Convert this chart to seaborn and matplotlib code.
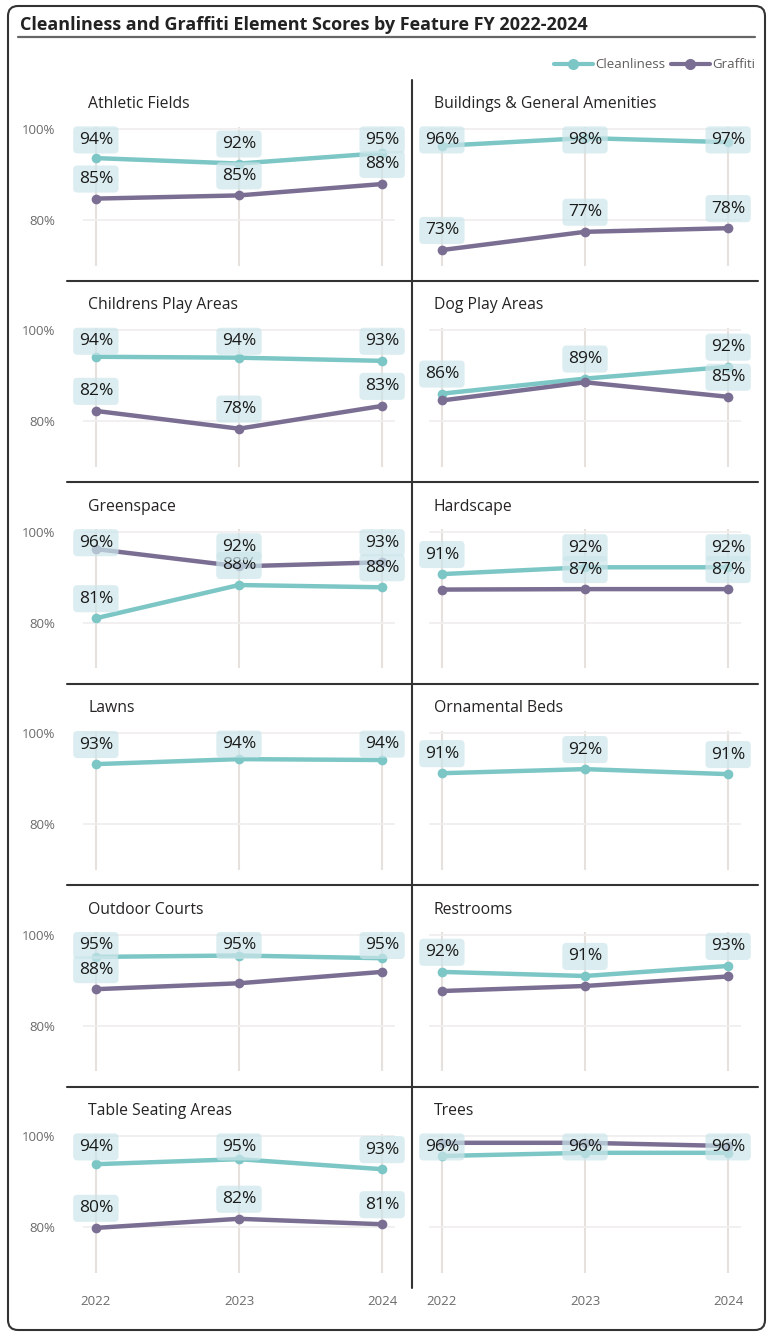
import numpy as np
import pandas as pd
import matplotlib
matplotlib.use("Agg")
import matplotlib.pyplot as plt
import seaborn as sns
from matplotlib.lines import Line2D
from matplotlib.patches import FancyBboxPatch
from matplotlib.transforms import IdentityTransform

# ---------------- data ----------------
years = [2022, 2023, 2024]
features = ["Athletic Fields", "Buildings & General Amenities",
            "Childrens Play Areas", "Dog Play Areas",
            "Greenspace", "Hardscape",
            "Lawns", "Ornamental Beds",
            "Outdoor Courts", "Restrooms",
            "Table Seating Areas", "Trees"]
cleanliness = [
    [93.6, 92.4, 94.7],
    [96.3, 98.0, 97.1],
    [94.2, 94.0, 93.3],
    [86.1, 89.4, 92.0],
    [81.0, 88.3, 87.8],
    [90.7, 92.2, 92.2],
    [93.2, 94.3, 94.1],
    [91.2, 92.1, 91.0],
    [95.1, 95.4, 94.8],
    [91.8, 90.9, 93.1],
    [93.8, 94.9, 92.7],
    [95.6, 96.3, 96.3],
]
graffiti = [
    [84.7, 85.4, 87.9],
    [73.4, 77.4, 78.2],
    [82.3, 78.4, 83.4],
    [84.6, 88.6, 85.4],
    [96.2, 92.4, 93.3],
    [87.3, 87.4, 87.4],
    None,
    None,
    [88.0, 89.3, 91.8],
    [87.6, 88.7, 90.8],
    [79.8, 81.8, 80.6],
    [98.5, 98.5, 97.8],
]
# graffiti data labels hidden by the original (overlap)
hidden_graffiti_labels = {
    "Dog Play Areas": [2022, 2023],
    "Hardscape": [2022],
    "Outdoor Courts": [2023, 2024],
    "Restrooms": [2022, 2023, 2024],
    "Trees": [2022, 2023, 2024],
}
series_names = ["Cleanliness", "Graffiti"]
title = "Cleanliness and Graffiti Element Scores by Feature FY 2022-2024"

rows = []
for f, c, g in zip(features, cleanliness, graffiti):
    for y, v in zip(years, c):
        rows.append((f, "Cleanliness", y, v))
    if g is not None:
        for y, v in zip(years, g):
            rows.append((f, "Graffiti", y, v))
df = pd.DataFrame(rows, columns=["feature", "series", "year", "score"])

# ---------------- style ----------------
sns.set_theme(style="white")
plt.rcParams['font.family'] = ['Open Sans', 'DejaVu Sans']

palette = {"Cleanliness": "#7CC6C6", "Graffiti": "#7B6E93"}
W, H = 769, 1334
fig = plt.figure(figsize=(W / 100, H / 100), dpi=100)
fig.patch.set_facecolor("white")


def fx(px):
    return px / W


def fy(py):
    return 1 - py / H


row_pitch = 201.4
for i, feat in enumerate(features):
    r, c = divmod(i, 2)
    x0, x1 = (83, 395) if c == 0 else (429, 741)
    y100 = 129 + r * row_pitch
    top = y100 - 2.3
    bottom = y100 + 136.5
    ax = fig.add_axes([fx(x0), fy(bottom), (x1 - x0) / W, (bottom - top) / H])
    sub = df[df.feature == feat]
    order = [s for s in series_names if s in sub.series.unique()]
    sns.lineplot(data=sub, x="year", y="score", hue="series", hue_order=order,
                 palette=palette, marker="o", markersize=7, markeredgewidth=0,
                 linewidth=3.2, legend=False, ax=ax)
    ax.set_xlim(2022 - 0.09, 2024 + 0.09)
    ax.set_ylim(70, 100.5)
    ax.set_xticks(years)
    ax.set_yticks([80, 100])
    if c == 0:
        ax.set_yticklabels(["80%", "100%"])
    else:
        ax.set_yticklabels(["", ""])
    if r == 5:
        ax.set_xticklabels([str(y) for y in years])
    else:
        ax.set_xticklabels(["", "", ""])
    ax.tick_params(axis="y", length=0, pad=20, labelsize=9.5, labelcolor="#6B6B6B")
    ax.tick_params(axis="x", length=0, pad=16, labelsize=9.5, labelcolor="#6B6B6B")
    ax.set_xlabel("")
    ax.set_ylabel("")
    ax.grid(axis="y", color="#F0EEEE", lw=1.3)
    ax.grid(axis="x", color="#E7E1DD", lw=1.5)
    ax.set_axisbelow(True)
    for s in ax.spines.values():
        s.set_visible(False)
    ax.set_facecolor("none")

    # data labels
    for _, row in sub.iterrows():
        if row.series == "Graffiti" and row.year in hidden_graffiti_labels.get(feat, []):
            continue
        ly = min(row.score + 4.3, 97.6)
        ax.text(row.year, ly, f"{round(row.score)}%", ha="center", va="center",
                fontsize=12.5, color="#1A1A1A", zorder=6, clip_on=False,
                bbox=dict(boxstyle="round,pad=0.32,rounding_size=0.25",
                          fc=(0.80, 0.90, 0.92, 0.7), ec="none"))

    fig.text(fx(x0 + 5), fy(y100 - 25), feat, fontsize=11.3, color="#252423",
             ha="left", va="center")

# separators
sep_kw = dict(color="#333333", lw=1.5, transform=fig.transFigure)
fig.add_artist(Line2D([fx(412), fx(412)], [fy(80), fy(1288)], **sep_kw))
for k in range(5):
    yy = 281 + k * row_pitch
    fig.add_artist(Line2D([fx(67), fx(758)], [fy(yy), fy(yy)], **sep_kw))

# title + underline
fig.text(fx(20), fy(25), title, fontsize=13, fontweight="bold", color="#222222",
         ha="left", va="center")
fig.add_artist(Line2D([fx(18), fx(755)], [fy(37), fy(37)], color="#666666",
                      lw=1.6, transform=fig.transFigure))

# legend
handles = [Line2D([0], [0], color=palette[s], lw=3, marker="o", markersize=8,
                  markeredgewidth=0) for s in series_names]
fig.legend(handles, series_names, loc="center right",
           bbox_to_anchor=(fx(755), fy(65)), ncol=2, frameon=False, fontsize=9.5,
           handlelength=3.0, handletextpad=0.15, columnspacing=0.4,
           borderaxespad=0, borderpad=0, labelcolor="#605E5C")

# outer rounded frame
frame = FancyBboxPatch((8, H - 1330), 757, 1324,
                       boxstyle="round,pad=0,rounding_size=10",
                       transform=IdentityTransform(), fill=False,
                       ec="#333333", lw=1.5)
fig.add_artist(frame)

fig.savefig("out.png", dpi=100)
